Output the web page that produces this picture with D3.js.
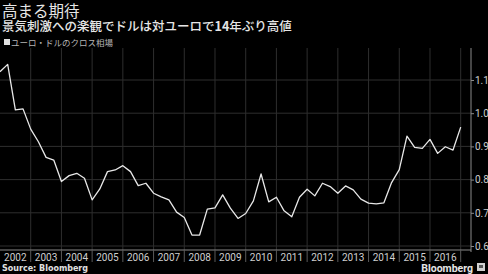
<!DOCTYPE html>
<html>
<head>
<meta charset="utf-8">
<script src="https://cdn.jsdelivr.net/npm/d3@7"></script>
<style>
  html, body { margin: 0; padding: 0; background: #000; }
  svg { display: block; font-family: "Noto Sans CJK JP", "Noto Sans", sans-serif; }
</style>
</head>
<body>
<svg id="chart" width="488" height="274"></svg>
<script>
// quarterly EUR per USD, 2002.0 .. 2017.0
const dates = d3.range(0, 61).map(i => 2002 + i / 4);
const values = [
  1.125, 1.147, 1.010, 1.013,
  0.952, 0.914, 0.867, 0.859,
  0.794, 0.812, 0.819, 0.804,
  0.739, 0.772, 0.824, 0.829,
  0.842, 0.824, 0.782, 0.789,
  0.759, 0.748, 0.739, 0.702,
  0.686, 0.633, 0.633, 0.711,
  0.715, 0.754, 0.714, 0.683,
  0.698, 0.736, 0.817, 0.733,
  0.747, 0.706, 0.688, 0.747,
  0.771, 0.751, 0.789, 0.779,
  0.759, 0.781, 0.769, 0.741,
  0.729, 0.727, 0.730, 0.791,
  0.830, 0.931, 0.897, 0.894,
  0.921, 0.879, 0.899, 0.889,
  0.958
];
const years = d3.range(2002, 2017);
const yTicks = [0.6, 0.7, 0.8, 0.9, 1.0, 1.1];

const svg = d3.select('#chart');
const plot = { left: 0, right: 471, top: 48, bottom: 250 };

const x = d3.scaleLinear().domain([2002, 2017]).range([0, 460.7]);
const y = d3.scaleLinear().domain([0.6, 1.1]).range([246, 80]);

// header
svg.append('text').attr('x', 2).attr('y', 17)
    .attr('fill', '#e6e6e6').style('font-size', '15.5px')
    .text('高まる期待');
const sub = svg.append('text').attr('x', 2).attr('y', 31)
    .attr('fill', '#e6e6e6').style('font-size', '12.5px').style('font-weight', '500');
sub.append('tspan').text('景気刺激への楽観でドルは対ユーロで');
sub.append('tspan').style('font-weight', '700').text('14');
sub.append('tspan').text('年ぶり高値');

// legend
svg.append('rect').attr('x', 4).attr('y', 39).attr('width', 6).attr('height', 6).attr('fill', '#e0e0e0');
svg.append('text').attr('x', 11).attr('y', 45.5)
    .attr('fill', '#b5b5b5').style('font-size', '8.5px')
    .text('ユーロ・ドルのクロス相場');

// horizontal grid
svg.append('g').selectAll('line').data(yTicks).join('line')
    .attr('x1', plot.left).attr('x2', plot.right)
    .attr('y1', d => y(d)).attr('y2', d => y(d))
    .attr('stroke', '#2e2e2e').attr('stroke-width', 1);

// vertical grid at year boundaries
svg.append('g').selectAll('line').data(years.slice(1).concat([2017])).join('line')
    .attr('x1', d => x(d)).attr('x2', d => x(d))
    .attr('y1', plot.top).attr('y2', plot.bottom)
    .attr('stroke', '#2e2e2e').attr('stroke-width', 1);

// x axis
svg.append('line').attr('x1', plot.left).attr('x2', plot.right)
    .attr('y1', plot.bottom).attr('y2', plot.bottom)
    .attr('stroke', '#8a8a8a').attr('stroke-width', 1);
svg.append('g').selectAll('line').data(years.slice(1).concat([2017])).join('line')
    .attr('x1', d => x(d)).attr('x2', d => x(d))
    .attr('y1', plot.bottom).attr('y2', plot.bottom + 12)
    .attr('stroke', '#5a5a5a').attr('stroke-width', 1);
svg.append('g').selectAll('text').data(years).join('text')
    .attr('x', d => x(d + 0.5)).attr('y', 261)
    .attr('text-anchor', 'middle')
    .attr('fill', '#cfcfcf').style('font-size', '10px')
    .style('font-family', 'Roboto, "Noto Sans", sans-serif')
    .text(d => d);

// y axis on the right
const yAxis = svg.append('g')
    .attr('transform', `translate(${plot.right},0)`)
    .call(d3.axisRight(y).tickValues(yTicks).tickSize(3).tickFormat(d3.format('.1f')));
yAxis.select('.domain').attr('d', `M0,${plot.top}V${plot.bottom + 2}`).attr('stroke', '#8a8a8a');
yAxis.selectAll('.tick line').attr('stroke', '#8a8a8a');
yAxis.selectAll('.tick text')
    .attr('fill', '#cfcfcf').attr('x', 4)
    .style('font-size', '10px')
    .style('font-family', 'Roboto, "Noto Sans", sans-serif');

// line
const line = d3.line()
    .x((d, i) => x(dates[i]))
    .y(d => y(d));
svg.append('path')
    .datum(values)
    .attr('fill', 'none')
    .attr('stroke', '#e8e8e8')
    .attr('stroke-width', 1.3)
    .attr('stroke-linejoin', 'round')
    .attr('d', line);

// footer
svg.append('text').attr('x', 2).attr('y', 271)
    .attr('fill', '#e0e0e0').style('font-size', '8px').style('font-weight', '700')
    .style('font-family', '"DejaVu Sans", sans-serif')
    .text('Source: Bloomberg');
svg.append('text').attr('x', 473).attr('y', 272)
    .attr('text-anchor', 'end')
    .attr('fill', '#e6e6e6').style('font-size', '10.5px').style('font-weight', '700')
    .style('font-family', 'Roboto, "Noto Sans", sans-serif')
    .text('Bloomberg');
svg.append('rect').attr('x', 477).attr('y', 263).attr('width', 8).attr('height', 8).attr('fill', '#d0d0d0');
svg.append('rect').attr('x', 479).attr('y', 265).attr('width', 4).attr('height', 3).attr('fill', '#555');
</script>
</body>
</html>
